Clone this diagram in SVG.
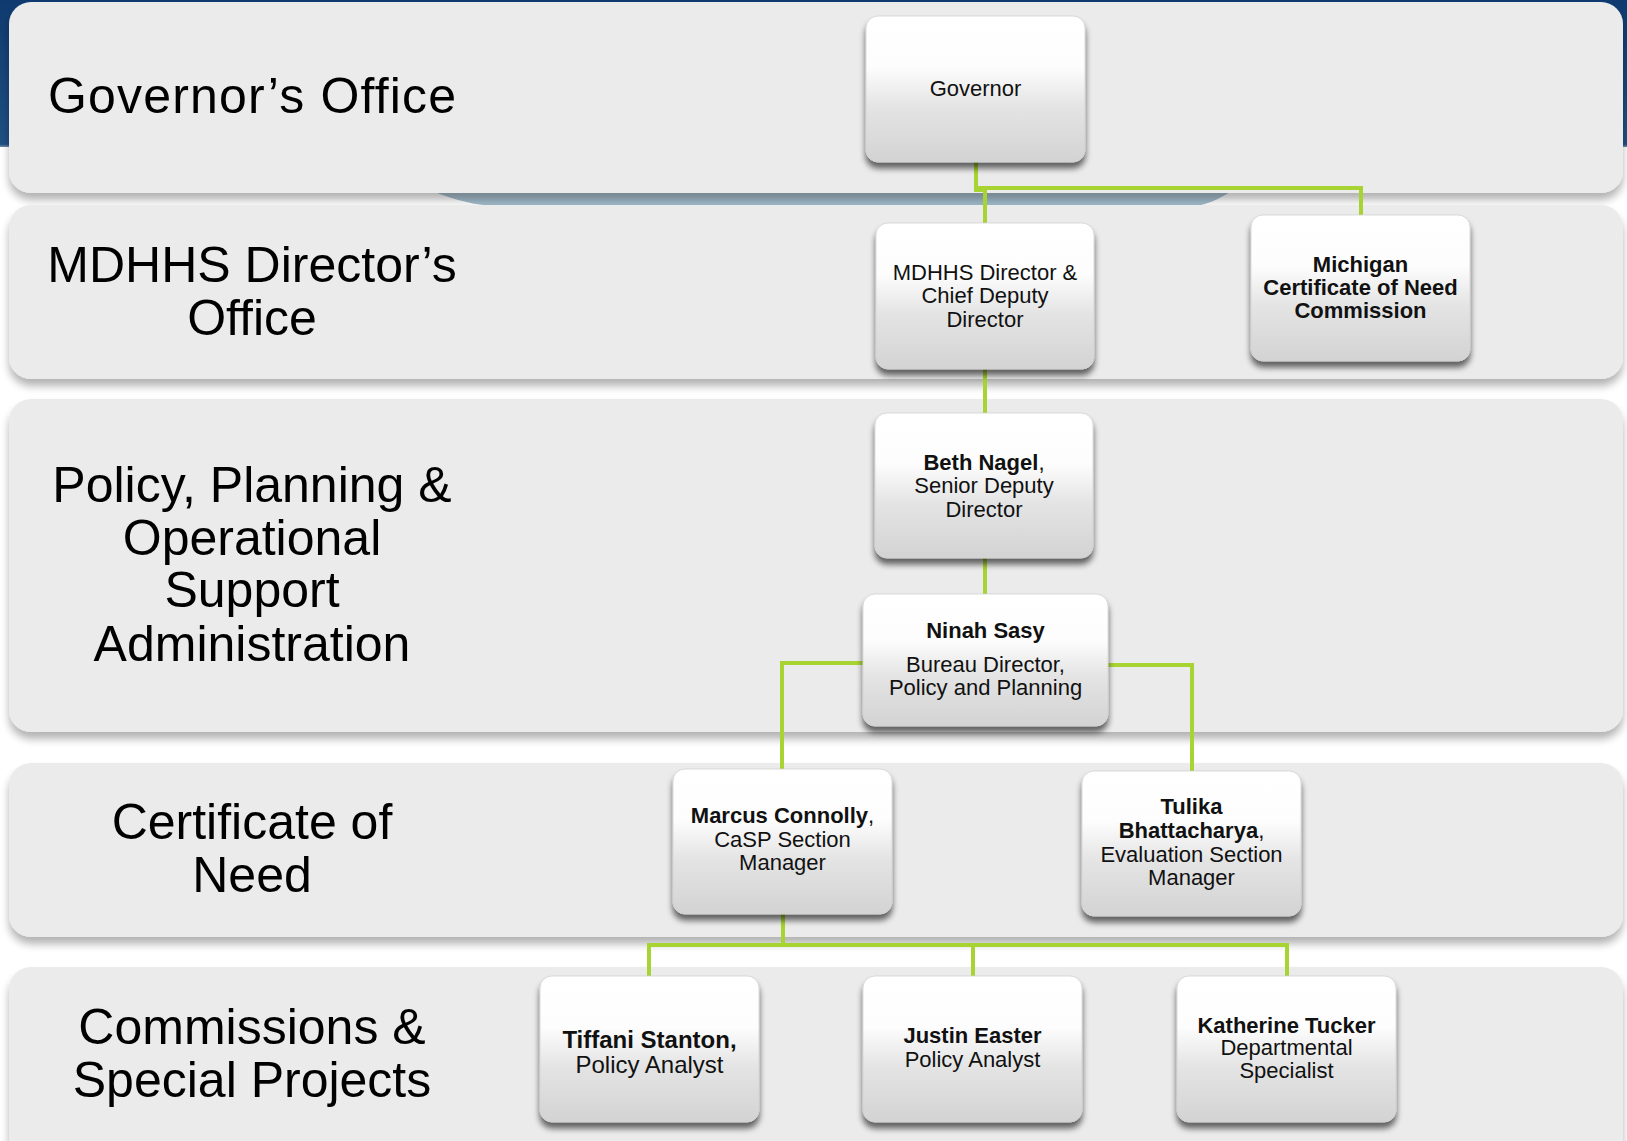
<svg xmlns="http://www.w3.org/2000/svg" width="1627" height="1141" viewBox="0 0 1627 1141">
<style>
.band{fill:#ebebeb;filter:url(#bandShadow);}
.lbl{font-family:"Liberation Sans",Arial,sans-serif;font-size:50px;fill:#000;text-anchor:middle;}
.box{fill:url(#boxGrad);stroke:#d2d2d2;stroke-width:0.8;filter:url(#boxShadow);}
.t{font-family:"Liberation Sans",Arial,sans-serif;font-size:22px;fill:#111;text-anchor:middle;}
.b{font-weight:bold;}
.conn{fill:none;stroke:#a7d432;stroke-width:4;stroke-linejoin:miter;}
</style>
<defs>
<linearGradient id="bg" x1="0" y1="0" x2="0" y2="206" gradientUnits="userSpaceOnUse">
<stop offset="0" stop-color="#0f3a70"/>
<stop offset="0.7" stop-color="#1f4f82"/>
<stop offset="0.73" stop-color="#d0d7db"/>
<stop offset="1" stop-color="#9dbacb"/>
</linearGradient>
<linearGradient id="boxGrad" x1="0" y1="0" x2="0" y2="1">
<stop offset="0" stop-color="#ffffff"/>
<stop offset="0.35" stop-color="#fdfdfd"/>
<stop offset="0.62" stop-color="#e4e4e4"/>
<stop offset="1" stop-color="#d3d3d3"/>
</linearGradient>
<filter id="bandShadow" x="-5%" y="-10%" width="110%" height="130%">
<feGaussianBlur in="SourceAlpha" stdDeviation="4"/>
<feOffset dx="0" dy="7" result="o"/>
<feComponentTransfer><feFuncA type="linear" slope="0.3"/></feComponentTransfer>
<feMerge><feMergeNode/><feMergeNode in="SourceGraphic"/></feMerge>
</filter>
<filter id="boxShadow" x="-10%" y="-10%" width="120%" height="130%">
<feGaussianBlur in="SourceAlpha" stdDeviation="3"/>
<feOffset dx="0" dy="6" result="o"/>
<feComponentTransfer><feFuncA type="linear" slope="0.6"/></feComponentTransfer>
<feMerge><feMergeNode/><feMergeNode in="SourceGraphic"/></feMerge>
</filter>
</defs>
<rect x="0" y="0" width="1627" height="1141" fill="#ffffff"/>
<path d="M0 0 H1627 V147 H1300 C1260 160 1230 206 1190 206 H500 C440 206 400 168 300 147 H0 Z" fill="url(#bg)"/>
<g id="bands">
<rect class="band" x="9" y="2" width="1614" height="191" rx="22"/>
<rect class="band" x="9" y="205" width="1614" height="174" rx="22"/>
<rect class="band" x="9" y="399" width="1614" height="333" rx="22"/>
<rect class="band" x="9" y="763" width="1614" height="174" rx="22"/>
<rect class="band" x="9" y="967" width="1614" height="195" rx="22"/>
</g>
<g id="band-labels">
<text class="lbl" x="252" y="113" textLength="408">Governor’s Office</text>
<text class="lbl" x="252" y="282">MDHHS Director’s</text>
<text class="lbl" x="252" y="335">Office</text>
<text class="lbl" x="252" y="502">Policy, Planning &amp;</text>
<text class="lbl" x="252" y="555">Operational</text>
<text class="lbl" x="252" y="607">Support</text>
<text class="lbl" x="252" y="661">Administration</text>
<text class="lbl" x="252" y="839">Certificate of</text>
<text class="lbl" x="252" y="892">Need</text>
<text class="lbl" x="252" y="1044">Commissions &amp;</text>
<text class="lbl" x="252" y="1097">Special Projects</text>
</g>
<g id="connectors">
<path class="conn" d="M976 160 V190 H985 V225"/>
<path class="conn" d="M976 188 H1361 V217"/>
<path class="conn" d="M985 367 V415"/>
<path class="conn" d="M985 556 V596"/>
<path class="conn" d="M865 663 H782 V771"/>
<path class="conn" d="M1106 665 H1192 V773"/>
<path class="conn" d="M783 912 V945"/>
<path class="conn" d="M649 978 V945 H1287 V978"/>
<path class="conn" d="M973 945 V978"/>
</g>
<g id="governor">
<rect class="box" x="866" y="16" width="219" height="146" rx="12"/>
<text class="t" x="975.5" y="96">Governor</text>
</g>
<g id="mdhhs-director">
<rect class="box" x="876" y="223" width="218" height="146" rx="12"/>
<text class="t" x="985" y="280">MDHHS Director &amp;</text>
<text class="t" x="985" y="303">Chief Deputy</text>
<text class="t" x="985" y="327">Director</text>
</g>
<g id="con-commission">
<rect class="box" x="1251" y="215" width="219" height="146" rx="12"/>
<text class="t b" x="1360.5" y="272">Michigan</text>
<text class="t b" x="1360.5" y="295">Certificate of Need</text>
<text class="t b" x="1360.5" y="318">Commission</text>
</g>
<g id="beth-nagel">
<rect class="box" x="875" y="413" width="218" height="145" rx="12"/>
<text class="t" x="984" y="470"><tspan class="b">Beth Nagel</tspan>,</text>
<text class="t" x="984" y="493">Senior Deputy</text>
<text class="t" x="984" y="517">Director</text>
</g>
<g id="ninah-sasy">
<rect class="box" x="863" y="594" width="245" height="132" rx="12"/>
<text class="t b" x="985.5" y="638">Ninah Sasy</text>
<text class="t" x="985.5" y="672">Bureau Director,</text>
<text class="t" x="985.5" y="695">Policy and Planning</text>
</g>
<g id="marcus-connolly">
<rect class="box" x="673" y="769" width="219" height="145" rx="12"/>
<text class="t" x="782.5" y="823"><tspan class="b">Marcus Connolly</tspan>,</text>
<text class="t" x="782.5" y="847">CaSP Section</text>
<text class="t" x="782.5" y="870">Manager</text>
</g>
<g id="tulika-bhattacharya">
<rect class="box" x="1082" y="771" width="219" height="145" rx="12"/>
<text class="t b" x="1191.5" y="814">Tulika</text>
<text class="t" x="1191.5" y="838"><tspan class="b">Bhattacharya</tspan>,</text>
<text class="t" x="1191.5" y="862">Evaluation Section</text>
<text class="t" x="1191.5" y="885">Manager</text>
</g>
<g id="tiffani-stanton">
<rect class="box" x="540" y="976" width="219" height="146" rx="12"/>
<text class="t b" x="649.5" y="1048" style="font-size:24px">Tiffani Stanton,</text>
<text class="t" x="649.5" y="1073" style="font-size:24px">Policy Analyst</text>
</g>
<g id="justin-easter">
<rect class="box" x="863" y="976" width="219" height="146" rx="12"/>
<text class="t b" x="972.5" y="1043">Justin Easter</text>
<text class="t" x="972.5" y="1067">Policy Analyst</text>
</g>
<g id="katherine-tucker">
<rect class="box" x="1177" y="976" width="219" height="146" rx="12"/>
<text class="t b" x="1286.5" y="1033">Katherine Tucker</text>
<text class="t" x="1286.5" y="1055">Departmental</text>
<text class="t" x="1286.5" y="1078">Specialist</text>
</g>
</svg>
